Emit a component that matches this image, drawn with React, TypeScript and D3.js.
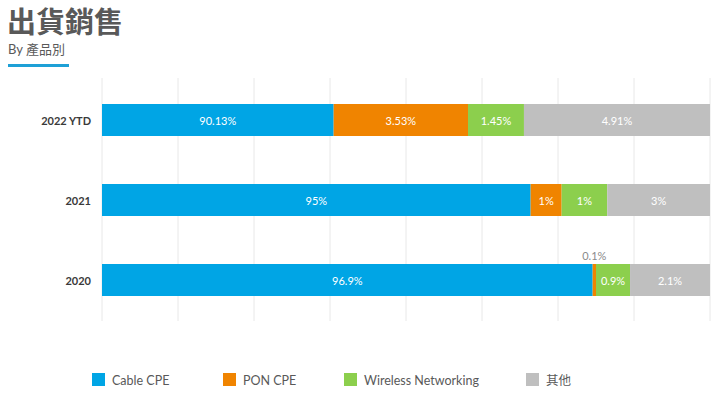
import { useEffect, useRef } from 'react';
import * as d3 from 'd3';

// categories, top to bottom
const CATEGORIES = ['2022 YTD', '2021', '2020'];
const SERIES = ['Cable CPE', 'PON CPE', 'Wireless Networking', '其他'];
const COLORS = ['#00a5e5', '#f08400', '#8ccf4d', '#bfbfbf'];

// printed labels per category (Cable, PON, Wireless, Other)
const LABELS_2022 = ['90.13%', '3.53%', '1.45%', '4.91%'];
const LABELS_2021 = ['95%', '1%', '1%', '3%'];
const LABELS_2020 = ['96.9%', '0.1%', '0.9%', '2.1%'];

// segment lengths as drawn in the picture (share of the full bar, 0-100)
const WIDTHS_2022 = [38.1, 22.1, 9.2, 30.6];
const WIDTHS_2021 = [70.5, 5.1, 7.5, 16.9];
const WIDTHS_2020 = [80.7, 0.55, 5.6, 13.15];

const GRID_TICKS = [0, 12.5, 25, 37.5, 50, 62.5, 75, 87.5, 100];

const ROWS = [
  { cat: CATEGORIES[0], widths: WIDTHS_2022, labels: LABELS_2022 },
  { cat: CATEGORIES[1], widths: WIDTHS_2021, labels: LABELS_2021 },
  { cat: CATEGORIES[2], widths: WIDTHS_2020, labels: LABELS_2020 },
];

const W = 720;
const H = 395;
const FONT = 'Lato, "Noto Sans CJK TC", sans-serif';

export default function App() {
  const ref = useRef<SVGSVGElement>(null);

  useEffect(() => {
    if (!ref.current) return;
    const svg = d3.select(ref.current);
    svg.selectAll('*').remove();

    // header
    svg.append('text')
      .attr('x', 7).attr('y', 33)
      .attr('fill', '#595959')
      .attr('font-family', '"Noto Sans CJK TC", sans-serif')
      .attr('font-weight', 'bold')
      .attr('font-size', 29)
      .text('出貨銷售');
    svg.append('text')
      .attr('x', 8).attr('y', 54)
      .attr('fill', '#595959')
      .attr('font-family', FONT)
      .attr('font-size', 13)
      .text('By 產品別');
    svg.append('rect')
      .attr('x', 8).attr('y', 64)
      .attr('width', 61).attr('height', 3)
      .attr('fill', '#1ea0d6');

    const x = d3.scaleLinear().domain([0, 100]).range([102, 710]);
    const y = d3.scaleBand()
      .domain(CATEGORIES)
      .range([80, 320])
      .paddingInner(0.6)
      .paddingOuter(0.3);

    // vertical grid
    svg.append('g')
      .selectAll('line')
      .data(GRID_TICKS)
      .join('line')
      .attr('x1', d => x(d)).attr('x2', d => x(d))
      .attr('y1', 78).attr('y2', 321)
      .attr('stroke', '#e8e8e8')
      .attr('stroke-width', 1);

    // category labels
    svg.append('g')
      .selectAll('text')
      .data(CATEGORIES)
      .join('text')
      .attr('x', 91)
      .attr('y', d => y(d)! + y.bandwidth() / 2)
      .attr('text-anchor', 'end')
      .attr('dominant-baseline', 'central')
      .attr('fill', '#3a3a3a')
      .attr('font-family', FONT)
      .attr('font-weight', 'bold')
      .attr('font-size', 11)
      .text(d => d);

    ROWS.forEach(row => {
      let acc = 0;
      const segs = row.widths.map((w, i) => {
        const s = { start: acc, end: acc + w, label: row.labels[i], color: COLORS[i], i };
        acc += w;
        return s;
      });
      const y0 = y(row.cat)!;
      const bh = y.bandwidth();
      const g = svg.append('g');
      g.selectAll('rect')
        .data(segs)
        .join('rect')
        .attr('x', d => x(d.start))
        .attr('width', d => x(d.end) - x(d.start))
        .attr('y', y0)
        .attr('height', bh)
        .attr('fill', d => d.color);

      g.selectAll('text')
        .data(segs)
        .join('text')
        .attr('x', d => (x(d.start) + x(d.end)) / 2)
        .attr('y', d => (x(d.end) - x(d.start) < 8 ? y0 - 9 : y0 + bh / 2))
        .attr('text-anchor', 'middle')
        .attr('dominant-baseline', 'central')
        .attr('fill', d => (x(d.end) - x(d.start) < 8 ? '#8a8a8a' : '#ffffff'))
        .attr('font-family', FONT)
        .attr('font-size', 11)
        .text(d => d.label);
    });

    // legend
    const legendX = [92, 223, 344, 526];
    const lg = svg.append('g');
    SERIES.forEach((name, i) => {
      lg.append('rect')
        .attr('x', legendX[i]).attr('y', 373)
        .attr('width', 13).attr('height', 13)
        .attr('fill', COLORS[i]);
      lg.append('text')
        .attr('x', legendX[i] + 20).attr('y', 380)
        .attr('dominant-baseline', 'central')
        .attr('fill', '#595959')
        .attr('font-family', FONT)
        .attr('font-size', 12.5)
        .text(name);
    });
  }, []);

  return (
    <svg
      ref={ref}
      width={W}
      height={H}
      style={{ position: 'absolute', left: 0, top: 0, background: '#fff', display: 'block' }}
    />
  );
}
